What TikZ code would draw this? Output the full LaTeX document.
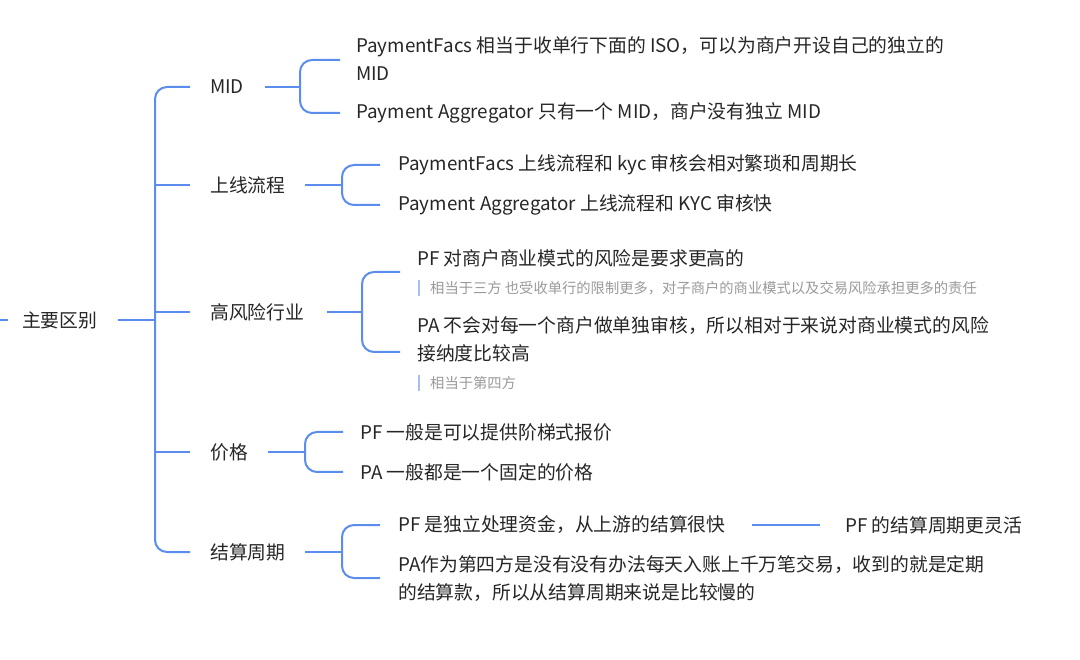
\documentclass[tikz,border=0pt]{standalone}
\usepackage{fontspec}
\setmainfont{Noto Sans CJK SC}
\definecolor{lb}{HTML}{5B8DEF}
\definecolor{nt}{HTML}{9A9A9A}
\definecolor{nb}{HTML}{A9BEF0}
\begin{document}
\begin{tikzpicture}[x=1pt,y=-1pt,
  ln/.style={draw=lb,line width=2pt,rounded corners=12pt},
  tx/.style={anchor=west,inner sep=0pt,font=\fontsize{18.8}{28}\selectfont,text=black!85,align=left},
  nts/.style={anchor=west,inner sep=0pt,font=\fontsize{14.3}{15}\selectfont,text=nt}]
\useasboundingbox[fill=white] (0,0) rectangle (1080,660);
% root
\node[tx] (root) at (22,320) {主要区别};
\coordinate (rs) at (0,320); \coordinate (re) at (8,320);
\draw[ln] (rs) -- (re);
\coordinate (ra) at (118,320);
\draw[ln] (ra) -- (155,320);
\draw[ln] (190,87) -- (155,87) -- (155,552) -- (190,552);
\foreach \y in {185,312,452} \draw[ln] (155,\y) -- (190,\y);
% level 1
\node[tx] (mid) at (210,87) {MID};
\node[tx] (sx) at (210,185) {上线流程};
\node[tx] (gf) at (210,312) {高风险行业};
\node[tx] (jg) at (210,452) {价格};
\node[tx] (js) at (210,552) {结算周期};
% MID
\draw[ln] (265,87) -- (300,87);
\draw[ln] (340,60) -- (300,60) -- (300,113) -- (340,113);
\node[tx] (m1) at (356,59) {PaymentFacs 相当于收单行下面的 ISO，可以为商户开设自己的独立的\\MID};
\node[tx] (m2) at (356,113) {Payment Aggregator 只有一个 MID，商户没有独立 MID};
% 上线流程
\draw[ln] (305,185) -- (342,185);
\draw[ln] (380,165) -- (342,165) -- (342,205) -- (380,205);
\node[tx] (s1) at (398,165) {PaymentFacs 上线流程和 kyc 审核会相对繁琐和周期长};
\node[tx] (s2) at (398,205) {Payment Aggregator 上线流程和 KYC 审核快};
% 高风险
\draw[ln] (327,312) -- (362,312);
\draw[ln] (400,272) -- (362,272) -- (362,352) -- (400,352);
\node[tx] (g1) at (417,258) {PF 对商户商业模式的风险是要求更高的};
\draw[draw=nb,line width=1.5pt] (419,280) -- (419,296);
\node[nts] (n1) at (430,288) {相当于三方 也受收单行的限制更多，对子商户的商业模式以及交易风险承担更多的责任};
\node[tx] (g2) at (417,339) {PA 不会对每一个商户做单独审核，所以相对于来说对商业模式的风险\\接纳度比较高};
\draw[draw=nb,line width=1.5pt] (419,375) -- (419,391);
\node[nts] (n2) at (430,383) {相当于第四方};
% 价格
\draw[ln] (268,452) -- (305,452);
\draw[ln] (343,432) -- (305,432) -- (305,472) -- (343,472);
\node[tx] (p1) at (360,432) {PF 一般是可以提供阶梯式报价};
\node[tx] (p2) at (360,472) {PA 一般都是一个固定的价格};
% 结算周期
\draw[ln] (305,552) -- (342,552);
\draw[ln] (380,525) -- (342,525) -- (342,578) -- (380,578);
\node[tx] (j1) at (398,525) {PF 是独立处理资金，从上游的结算很快};
\node[tx] (j2) at (398,579) {PA作为第四方是没有没有办法每天入账上千万笔交易，收到的就是定期\\的结算款，所以从结算周期来说是比较慢的};
\node[tx] (j3) at (845,525) {PF 的结算周期更灵活};
\coordinate (c1) at (752,525); \coordinate (c2) at (820,525);
\draw[ln] (c1) -- (c2);
\end{tikzpicture}
\end{document}
